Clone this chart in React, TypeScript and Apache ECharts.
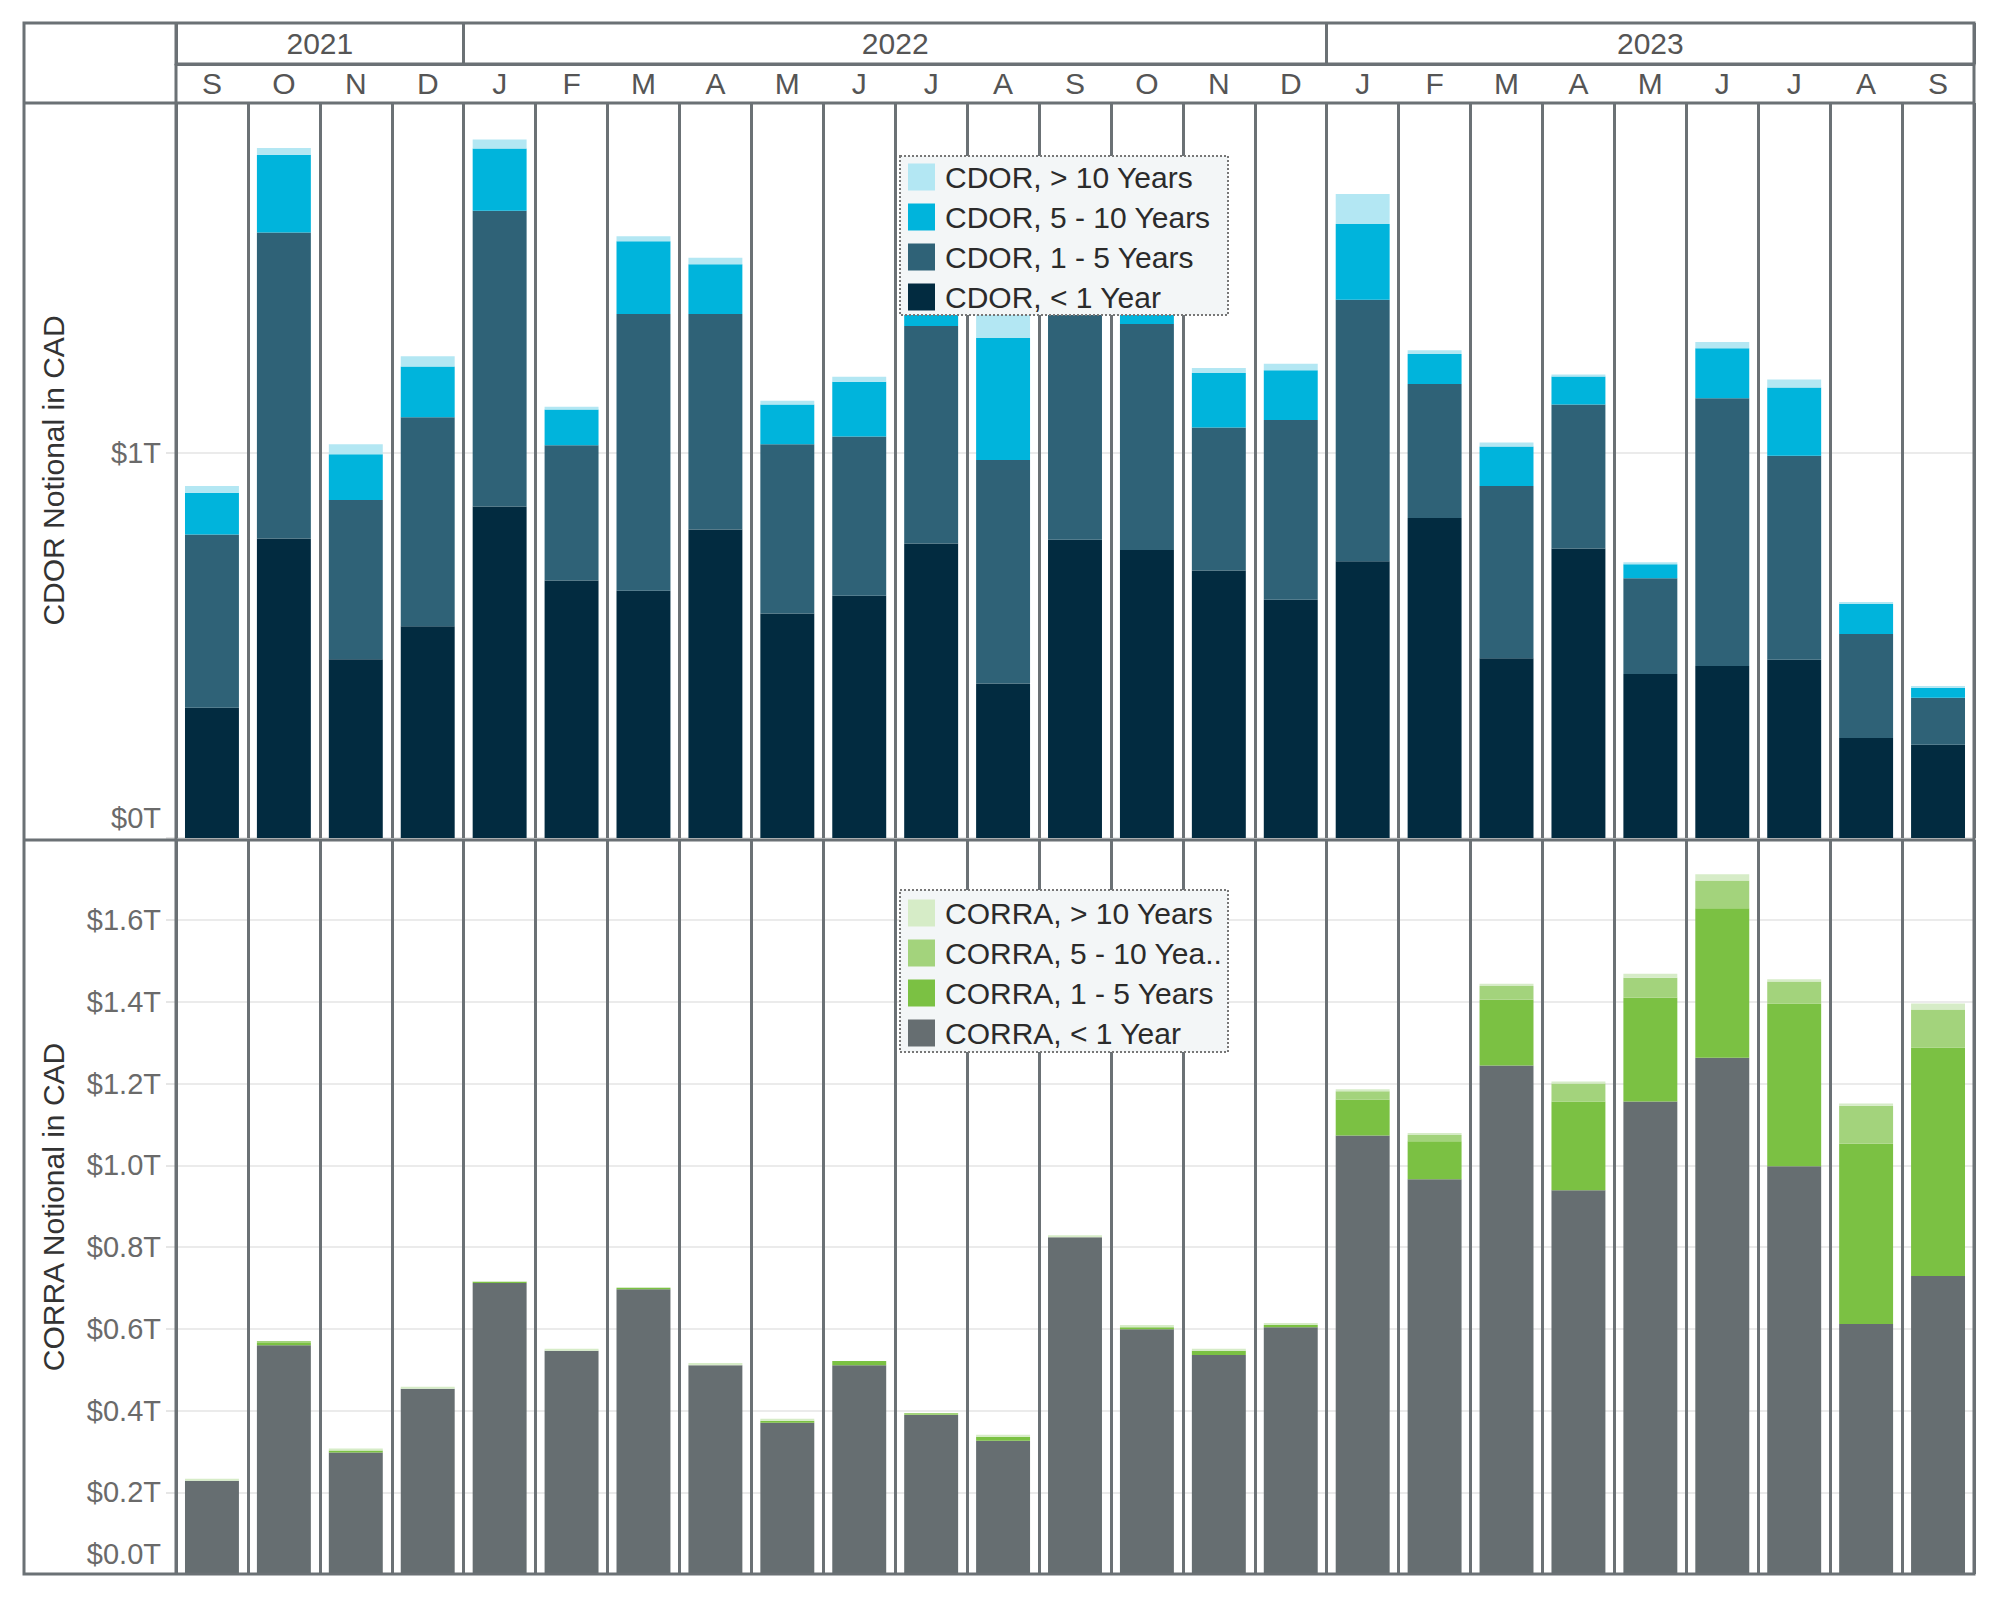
import React, { useEffect, useRef } from "react";
import * as echarts from "echarts";

// ---- Data ----
const monthKeys = [
  "2021-09", "2021-10", "2021-11", "2021-12",
  "2022-01", "2022-02", "2022-03", "2022-04", "2022-05", "2022-06",
  "2022-07", "2022-08", "2022-09", "2022-10", "2022-11", "2022-12",
  "2023-01", "2023-02", "2023-03", "2023-04", "2023-05", "2023-06",
  "2023-07", "2023-08", "2023-09",
];
const monthLetters = [
  "S", "O", "N", "D",
  "J", "F", "M", "A", "M", "J", "J", "A", "S", "O", "N", "D",
  "J", "F", "M", "A", "M", "J", "J", "A", "S",
];
const yearNames = ["2021", "2022", "2023"];
const yearMonthCounts = [4, 12, 9];

// CDOR notional (trillions CAD)
const cdorLt1 = [0.338, 0.778, 0.464, 0.55, 0.861, 0.669, 0.642, 0.801, 0.583, 0.629, 0.765, 0.401, 0.775, 0.748, 0.695, 0.619, 0.719, 0.831, 0.467, 0.752, 0.426, 0.447, 0.463, 0.26, 0.242];
const cdor1to5 = [0.45, 0.795, 0.414, 0.543, 0.768, 0.351, 0.719, 0.56, 0.44, 0.414, 0.565, 0.581, 0.62, 0.587, 0.371, 0.467, 0.679, 0.348, 0.447, 0.374, 0.249, 0.695, 0.53, 0.27, 0.122];
const cdor5to10 = [0.109, 0.202, 0.119, 0.132, 0.162, 0.093, 0.189, 0.129, 0.103, 0.142, 0.05, 0.317, 0.05, 0.04, 0.142, 0.129, 0.197, 0.078, 0.103, 0.073, 0.036, 0.13, 0.177, 0.078, 0.026];
const cdorGt10 = [0.017, 0.017, 0.026, 0.026, 0.023, 0.007, 0.013, 0.017, 0.01, 0.013, 0.01, 0.07, 0.01, 0.01, 0.013, 0.017, 0.078, 0.01, 0.01, 0.005, 0.005, 0.016, 0.021, 0.005, 0.005];

// CORRA notional (trillions CAD)
const corraLt1 = [0.228, 0.56, 0.297, 0.453, 0.712, 0.546, 0.697, 0.511, 0.37, 0.511, 0.389, 0.326, 0.824, 0.599, 0.536, 0.604, 1.073, 0.966, 1.244, 0.939, 1.156, 1.263, 0.998, 0.612, 0.729];
const corra1to5 = [0, 0.005, 0.005, 0, 0.003, 0, 0.003, 0, 0.005, 0.01, 0, 0.01, 0, 0.005, 0.01, 0.005, 0.088, 0.093, 0.161, 0.217, 0.254, 0.366, 0.398, 0.441, 0.559];
const corra5to10 = [0, 0.005, 0, 0, 0, 0, 0, 0, 0, 0, 0.005, 0, 0, 0, 0, 0, 0.02, 0.015, 0.034, 0.044, 0.049, 0.068, 0.054, 0.093, 0.093];
const corraGt10 = [0.005, 0, 0.005, 0.005, 0.002, 0.005, 0.002, 0.005, 0.005, 0, 0, 0.005, 0.005, 0.005, 0.005, 0.005, 0.005, 0.005, 0.005, 0.005, 0.01, 0.015, 0.005, 0.005, 0.015];

const cdorNames = ["CDOR, < 1 Year", "CDOR, 1 - 5 Years", "CDOR, 5 - 10 Years", "CDOR, > 10 Years"];
const corraNames = ["CORRA, < 1 Year", "CORRA, 1 - 5 Years", "CORRA, 5 - 10 Years", "CORRA, > 10 Years"];

// ---- Styles ----
const FONT = "'Liberation Sans', Arial, sans-serif";
const FRAME = "#6b7175";
const cdorColors = ["#022b40", "#2f6277", "#00b4dc", "#b3e7f3"];
const corraColors = ["#666e71", "#7bc143", "#a3d37c", "#d6ecc7"];

export default function App() {
  const ref = useRef<HTMLDivElement>(null);

  useEffect(() => {
    if (!ref.current) return;
    const chart = echarts.init(ref.current, null, { renderer: "svg", width: 2000, height: 1600 });

    const L = 176, R = 1974, TOP = 103, MID = 840, BOT = 1574;
    const gridW = R - L;

    const yearCenters: number[] = [];
    const yearBounds: number[] = [0];
    let acc = 0;
    yearMonthCounts.forEach((c) => {
      yearCenters.push(acc + c / 2);
      acc += c;
      yearBounds.push(acc);
    });

    const cdorSeries = [cdorLt1, cdor1to5, cdor5to10, cdorGt10].map((d, i) => ({
      name: cdorNames[i],
      type: "bar",
      stack: "cdor",
      xAxisIndex: 0,
      yAxisIndex: 0,
      barCategoryGap: "25%",
      data: d,
      itemStyle: { color: cdorColors[i] },
    }));
    const corraSeries = [corraLt1, corra1to5, corra5to10, corraGt10].map((d, i) => ({
      name: corraNames[i],
      type: "bar",
      stack: "corra",
      xAxisIndex: 2,
      yAxisIndex: 1,
      barCategoryGap: "25%",
      data: d,
      itemStyle: { color: corraColors[i] },
    }));

    const line = (x1: number, y1: number, x2: number, y2: number) => ({
      type: "line",
      shape: { x1, y1, x2, y2 },
      style: { stroke: FRAME, lineWidth: 3 },
      z: 20,
    });

    const legendBox = (y: number, h: number) => ({
      type: "rect",
      shape: { x: 900, y, width: 328, height: h },
      style: { fill: "#f3f6f7", stroke: "#777", lineWidth: 2, lineDash: [2, 2] },
      z: 5,
    });

    const legendCommon = {
      orient: "vertical",
      left: 908,
      padding: 0,
      itemWidth: 27,
      itemHeight: 27,
      itemGap: 10,
      icon: "rect",
      selectedMode: false,
      z: 6,
      textStyle: { fontSize: 30, lineHeight: 30, color: "#2b2b2b", fontFamily: FONT, padding: [0, 0, 0, 5] },
    };

    const tickRich = {
      z: { fontSize: 29, color: "#6a6a6a", fontFamily: FONT, padding: [0, 0, 6, 0] },
    };

    const option: any = {
      animation: false,
      backgroundColor: "#ffffff",
      textStyle: { fontFamily: FONT },
      grid: [
        { left: L, top: TOP, width: gridW, height: 735 },
        { left: L, top: MID, width: gridW, height: BOT - MID },
      ],
      legend: [
        {
          ...legendCommon,
          data: [...cdorNames].reverse(),
          top: 162,
        },
        {
          ...legendCommon,
          data: [...corraNames].reverse(),
          top: 898,
          formatter: (n: string) => (n === "CORRA, 5 - 10 Years" ? "CORRA, 5 - 10 Yea.." : n),
        },
      ],
      xAxis: [
        {
          type: "category",
          gridIndex: 0,
          position: "top",
          data: monthKeys,
          axisLine: { show: false },
          axisTick: { show: true, interval: 0, length: 39, lineStyle: { color: FRAME, width: 3 } },
          axisLabel: {
            interval: 0,
            margin: 5,
            fontSize: 30,
            color: "#555",
            fontFamily: FONT,
            formatter: (_v: string, i: number) => monthLetters[i],
          },
          splitLine: { show: true, interval: 0, lineStyle: { color: FRAME, width: 3 } },
        },
        {
          type: "value",
          gridIndex: 0,
          position: "top",
          offset: 39,
          min: 0,
          max: monthKeys.length,
          axisLine: { show: true, lineStyle: { color: FRAME, width: 3 } },
          axisTick: { show: true, customValues: yearBounds, length: 41, lineStyle: { color: FRAME, width: 3 } },
          axisLabel: {
            show: true,
            customValues: yearCenters,
            margin: 6,
            fontSize: 30,
            color: "#555",
            fontFamily: FONT,
            formatter: (v: number) => {
              const idx = yearCenters.findIndex((c) => Math.abs(c - v) < 1e-6);
              return idx >= 0 ? yearNames[idx] : "";
            },
          },
          splitLine: { show: false },
        },
        {
          type: "category",
          gridIndex: 1,
          position: "bottom",
          data: monthKeys,
          axisLine: { show: false },
          axisTick: { show: false },
          axisLabel: { show: false },
          splitLine: { show: true, interval: 0, lineStyle: { color: FRAME, width: 3 } },
        },
      ],
      yAxis: [
        {
          type: "value",
          gridIndex: 0,
          min: 0,
          max: 735 / 385,
          interval: 1,
          name: "CDOR Notional in CAD",
          nameLocation: "middle",
          nameGap: 108,
          nameTextStyle: { fontSize: 30, color: "#333", fontFamily: FONT },
          axisLine: { show: false },
          axisTick: { show: true, length: 10, lineStyle: { color: "#e6e6e6", width: 2 } },
          axisLabel: {
            margin: 15,
            fontSize: 29,
            color: "#6a6a6a",
            fontFamily: FONT,
            verticalAlignMinLabel: "bottom",
            showMaxLabel: false,
            rich: tickRich,
            formatter: (v: number) => {
              if (Math.abs(v - Math.round(v)) > 1e-6) return "";
              const s = `$${Math.round(v)}T`;
              return v === 0 ? `{z|${s}}` : s;
            },
          },
          splitLine: { show: true, lineStyle: { color: "#ebebeb", width: 2 } },
        },
        {
          type: "value",
          gridIndex: 1,
          min: 0,
          max: 1.796,
          interval: 0.2,
          name: "CORRA Notional in CAD",
          nameLocation: "middle",
          nameGap: 108,
          nameTextStyle: { fontSize: 30, color: "#333", fontFamily: FONT },
          axisLine: { show: false },
          axisTick: { show: true, length: 10, lineStyle: { color: "#e6e6e6", width: 2 } },
          axisLabel: {
            margin: 15,
            fontSize: 29,
            color: "#6a6a6a",
            fontFamily: FONT,
            verticalAlignMinLabel: "bottom",
            showMaxLabel: false,
            rich: tickRich,
            formatter: (v: number) => {
              if (Math.abs(v * 5 - Math.round(v * 5)) > 1e-6) return "";
              const s = `$${v.toFixed(1)}T`;
              return v === 0 ? `{z|${s}}` : s;
            },
          },
          splitLine: { show: true, lineStyle: { color: "#ebebeb", width: 2 } },
        },
      ],
      graphic: [
        legendBox(156, 159),
        legendBox(890, 162),
        {
          type: "rect",
          shape: { x: 24, y: 23, width: 1950, height: 1551 },
          style: { fill: "none", stroke: FRAME, lineWidth: 3 },
          z: 20,
        },
        line(24, TOP, R, TOP),
        line(24, MID, R, MID),
        line(L, 23, L, BOT),
        line(L, 64, R, 64),
      ],
      series: [...cdorSeries, ...corraSeries],
    };

    chart.setOption(option);
    return () => chart.dispose();
  }, []);

  return (
    <div
      ref={ref}
      style={{ position: "absolute", left: 0, top: 0, width: 2000, height: 1600, background: "#fff" }}
    />
  );
}
